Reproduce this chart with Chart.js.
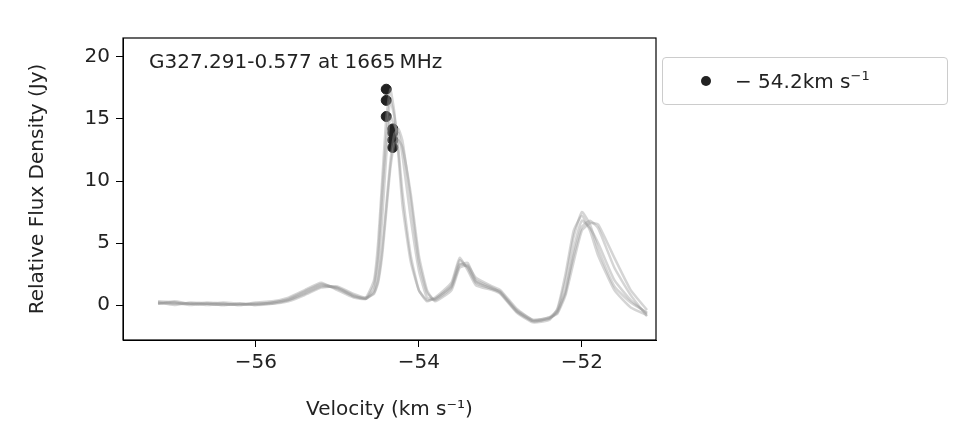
<!DOCTYPE html>
<html>
<head>
<meta charset="utf-8">
<script src="https://cdn.jsdelivr.net/npm/chart.js@4.4.0/dist/chart.umd.min.js"></script>
<style>
  body { margin: 0; background: #fff; }
  #wrap { position: relative; width: 976px; height: 442px; }
  #legend { position: absolute; left: 662px; top: 57px; width: 286px; height: 48px; border: 1px solid #ccc; border-radius: 4px;
    font-family: 'DejaVu Sans', sans-serif; font-size: 20px; color: #222; box-sizing: border-box; }
  #legend .dot { position: absolute; left: 38px; top: 18px; width: 10px; height: 10px; border-radius: 50%; background: #222; }
  #legend .txt { position: absolute; left: 72px; top: 10px; }
</style>
</head>
<body>
<div id="wrap">
  <canvas id="chart" width="976" height="442"></canvas>
  <div id="legend"><span class="dot"></span><span class="txt">− 54.2km s<sup style="font-size:13px">−1</sup></span></div>
</div>
<script>
'use strict';

// velocity channels (km/s) and several epochs of spectra
let velocity = [-57.2, -57.0, -56.8, -56.6, -56.4, -56.2, -56.0, -55.8, -55.6, -55.4, -55.2, -55.0, -54.8, -54.65, -54.55,
  -54.5, -54.45, -54.4, -54.35, -54.3, -54.25, -54.2, -54.1, -54.0, -53.9, -53.8, -53.6, -53.5, -53.4, -53.3, -53.1, -53.0,
  -52.8, -52.6, -52.4, -52.3, -52.2, -52.1, -52.0, -51.9, -51.8, -51.6, -51.4, -51.2];
let epoch1 = [0.2, 0.1, 0.1, 0.0, 0.1, 0.0, 0.1, 0.2, 0.5, 1.1, 1.7, 1.3, 0.7, 0.6, 2.0,
  5.0, 10.0, 15.0, 17.4, 15.5, 12.0, 8.0, 3.5, 1.2, 0.4, 0.5, 1.6, 3.6, 3.0, 1.8, 1.3, 1.1,
  -0.4, -1.2, -1.0, -0.4, 2.0, 5.5, 7.5, 6.5, 4.5, 1.5, 0.2, -0.6];
let epoch2 = [0.3, 0.2, 0.0, 0.1, 0.0, 0.1, 0.0, 0.2, 0.4, 0.9, 1.5, 1.4, 0.8, 0.5, 1.0,
  2.0, 4.5, 8.0, 11.5, 13.8, 14.2, 13.2, 8.5, 3.5, 1.0, 0.4, 1.4, 3.2, 3.4, 2.0, 1.4, 1.0,
  -0.5, -1.3, -1.1, -0.6, 1.2, 4.0, 6.3, 6.8, 6.2, 3.0, 0.8, -0.9];
let epoch3 = [0.1, 0.3, 0.1, 0.2, 0.1, 0.0, 0.2, 0.3, 0.6, 1.2, 1.8, 1.2, 0.6, 0.5, 1.6,
  4.0, 9.0, 13.5, 16.5, 15.2, 12.5, 9.0, 4.0, 1.2, 0.3, 0.6, 1.8, 3.8, 2.8, 1.6, 1.2, 0.9,
  -0.6, -1.4, -1.2, -0.3, 2.5, 6.0, 7.2, 6.0, 4.0, 1.2, -0.2, -0.8];
let epoch4 = [0.2, 0.0, 0.2, 0.1, 0.0, 0.1, 0.1, 0.1, 0.3, 0.8, 1.4, 1.5, 0.9, 0.6, 0.9,
  1.8, 4.0, 7.5, 11.0, 13.0, 13.3, 12.7, 9.0, 4.0, 1.2, 0.3, 1.2, 3.0, 3.2, 2.2, 1.5, 1.2,
  -0.3, -1.2, -1.0, -0.7, 0.8, 3.5, 6.0, 6.6, 6.5, 3.8, 1.2, -0.4];
let epoch5 = [0.1, 0.2, 0.1, 0.1, 0.2, 0.1, 0.0, 0.1, 0.4, 1.0, 1.6, 1.4, 0.7, 0.5, 1.2,
  3.0, 7.0, 12.0, 15.2, 14.5, 13.9, 12.0, 7.0, 2.8, 0.6, 0.5, 1.5, 3.3, 3.1, 1.9, 1.3, 1.0,
  -0.5, -1.3, -1.1, -0.5, 1.0, 4.5, 6.8, 6.2, 5.0, 2.0, 0.4, -0.7];
let epochs = [epoch1, epoch2, epoch3, epoch4, epoch5];

// peak velocities and flux densities of the -54.2 km/s feature
let peakVelocity = [-54.40, -54.40, -54.40, -54.32, -54.32, -54.32, -54.32];
let peakFlux = [17.4, 16.5, 15.2, 14.2, 13.9, 13.3, 12.7];

let xTicks = [-56, -54, -52];
let yTicks = [0, 5, 10, 15, 20];

let ctx = document.getElementById('chart').getContext('2d');
const font = { family: 'DejaVu Sans', size: 20 };

let datasets = [];
for (let i = 0; i < epochs.length; i++) {
  datasets.push({
    type: 'line',
    data: velocity.map((v, j) => ({ x: v, y: epochs[i][j] })),
    borderColor: 'rgba(150,150,150,0.4)',
    borderWidth: 2.5,
    pointRadius: 0,
    tension: 0.15
  });
}
datasets.push({
  type: 'scatter',
  data: peakVelocity.map((v, j) => ({ x: v, y: peakFlux[j] })),
  backgroundColor: '#222',
  borderColor: '#222',
  pointRadius: 5
});

const minus = v => String(v).replace('-', '\u2212');

const frame = {
  id: 'frame',
  afterDraw(chart) {
    let a = chart.chartArea;
    let c = chart.ctx;
    c.save();
    c.strokeStyle = '#000';
    c.lineWidth = 1.2;
    c.strokeRect(a.left, a.top, a.right - a.left, a.bottom - a.top);
    c.fillStyle = '#222';
    c.font = '20px "DejaVu Sans"';
    c.textBaseline = 'middle';
    c.fillText('G327.291-0.577 at 1665\u2009MHz', a.left + 26, 63);
    c.restore();
  }
};

new Chart(ctx, {
  data: { datasets: datasets },
  options: {
    responsive: false,
    animation: false,
    layout: { padding: { top: 38, right: 320, left: 26, bottom: 20 } },
    plugins: { legend: { display: false }, tooltip: { enabled: false } },
    scales: {
      x: {
        type: 'linear', min: -57.63, max: -51.09,
        afterFit: s => { s.height = 82; },
        afterBuildTicks: s => { s.ticks = xTicks.map(v => ({ value: v })); },
        ticks: { font: font, color: '#222', callback: minus, padding: 4 },
        grid: { drawOnChartArea: false, tickLength: 7, color: '#000' },
        border: { color: '#000' },
        title: { display: true, text: 'Velocity (km s\u207B\u00B9)', font: font, color: '#222', padding: 0 }
      },
      y: {
        type: 'linear', min: -2.82, max: 21.53,
        afterFit: s => { s.width = 97; },
        afterBuildTicks: s => { s.ticks = yTicks.map(v => ({ value: v })); },
        ticks: { font: font, color: '#222', callback: minus, padding: 6 },
        grid: { drawOnChartArea: false, tickLength: 7, color: '#000' },
        border: { color: '#000' },
        title: { display: true, text: 'Relative Flux Density (Jy)', font: font, color: '#222', padding: 0 }
      }
    }
  },
  plugins: [frame]
});
</script>
</body>
</html>
